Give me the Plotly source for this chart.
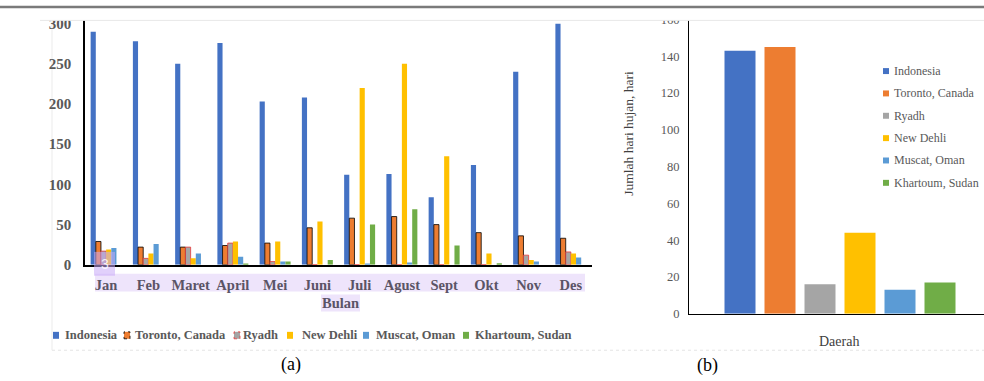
import plotly.graph_objects as go

# ---- data: monthly rainfall (a) and rainy days per region (b) ----
months = ["Jan", "Feb", "Maret", "April", "Mei", "Juni", "Juli", "Agust", "Sept", "Okt", "Nov", "Des"]
series_names = ["Indonesia", "Toronto, Canada", "Ryadh", "New Dehli", "Muscat, Oman", "Khartoum, Sudan"]

indonesia = [290, 278, 250, 276, 203, 208, 112, 113, 84, 124, 240, 300]
toronto = [29, 22, 22, 24, 27, 46, 58, 60, 50, 40, 36, 33]
ryadh = [17, 8, 22, 27, 4, 0, 0, 0, 0, 0, 12, 16]
new_dehli = [19, 14, 8, 29, 29, 54, 220, 250, 135, 14, 6, 14]
muscat = [21, 26, 14, 10, 4, 0, 1, 3, 0, 0, 4, 9]
khartoum = [0, 0, 0, 1, 4, 6, 50, 69, 24, 2, 0, 0]
monthly = [indonesia, toronto, ryadh, new_dehli, muscat, khartoum]

rain_days = [143, 145, 16, 44, 13, 17]

y_ticks_a = [0, 50, 100, 150, 200, 250, 300]
y_ticks_b = [0, 20, 40, 60, 80, 100, 120, 140, 160]

# ---- styles ----
colors = ["#4472C4", "#ED7D31", "#A5A5A5", "#FFC000", "#5B9BD5", "#70AD47"]
edge_colors = [None, "rgba(0,0,0,0.8)", "rgba(235,50,50,0.75)", None, None, None]
SERIF = "Liberation Serif"
GREY = "#595959"
W, H = 984, 381
# vertical pixel -> paper mapping (top offset and scale of the rendered page)
Y_OFF, Y_SCALE = 4.5, 0.967


def px(x):
    return x / W


def py(y):
    return min(1.0, 1 - (y - Y_OFF) / (Y_SCALE * H))


def label(x, y, text, **kw):
    d = dict(x=px(x), y=py(y), xref="paper", yref="paper", text=text,
             showarrow=False, xanchor="center", yanchor="middle")
    d.update(kw)
    return d


fig = go.Figure()

# (a) grouped monthly bars
for name, vals, col, edge in zip(series_names, monthly, colors, edge_colors):
    fig.add_trace(go.Bar(
        x=months, y=vals, name=name, xaxis="x", yaxis="y",
        marker=dict(color=col, line=dict(color=edge or col, width=1 if edge else 0)),
        showlegend=False,
    ))

# (b) rainy days per region, one bar per region
fig.add_trace(go.Bar(
    x=series_names, y=rain_days, xaxis="x2", yaxis="y2",
    marker=dict(color=colors, line=dict(width=0)),
    width=0.775, showlegend=False,
))

fig.update_layout(
    width=W, height=H,
    margin=dict(l=0, r=0, t=0, b=0),
    paper_bgcolor="white", plot_bgcolor="white",
    barmode="group", bargap=0.267, bargroupgap=0,
    font=dict(family=SERIF, color=GREY),
    xaxis=dict(
        domain=[px(85), px(592)], anchor="y", type="category",
        range=[-0.5, 11.5], showgrid=False, zeroline=False,
        showline=True, linecolor="black", linewidth=1.5,
        ticks="", ticklabelstandoff=6,
        tickfont=dict(family=SERIF, size=14.5, color="#5b5466", weight="bold"),
    ),
    yaxis=dict(
        domain=[py(264), py(18)], anchor="x",
        range=[0, 304], tickvals=y_ticks_a, showgrid=False, zeroline=False,
        showline=True, linecolor="black", linewidth=1.5,
        ticks="", ticklabelstandoff=9,
        tickfont=dict(family=SERIF, size=15, color=GREY, weight="bold"),
    ),
    xaxis2=dict(
        domain=[px(689), 1], anchor="y2", type="category",
        range=[-1.275, 6.1], showgrid=False, zeroline=False,
        showline=True, linecolor="black", linewidth=1,
        showticklabels=False, ticks="",
    ),
    yaxis2=dict(
        domain=[py(313.3), py(17)], anchor="x2",
        range=[0, 160], tickvals=y_ticks_b, showgrid=False, zeroline=False,
        showline=True, linecolor="black", linewidth=1,
        ticks="", ticklabelstandoff=6,
        tickfont=dict(family=SERIF, size=12.5, color=GREY),
    ),
)

shapes = []
annotations = []

# selection-style highlight behind the month labels and axis title
shapes.append(dict(type="rect", xref="paper", yref="paper", layer="below",
                   x0=px(95), x1=px(585), y0=py(291), y1=py(273),
                   fillcolor="#EEE4FB", line=dict(width=0)))
shapes.append(dict(type="rect", xref="paper", yref="paper", layer="below",
                   x0=px(321), x1=px(360), y0=py(311), y1=py(294),
                   fillcolor="#EEE4FB", line=dict(width=0)))

# faint chart-area borders
shapes.append(dict(type="line", xref="paper", yref="paper", layer="below",
                   x0=px(52), x1=px(52), y0=py(350), y1=py(18),
                   line=dict(color="#ebebeb", width=1)))
shapes.append(dict(type="line", xref="paper", yref="paper", layer="below",
                   x0=px(52), x1=1, y0=py(350), y1=py(350),
                   line=dict(color="#e4e4e4", width=1, dash="dot")))

# crop above the plots, top rule line
shapes.append(dict(type="rect", xref="paper", yref="paper", layer="above",
                   x0=0, x1=1, y0=py(17.8), y1=1,
                   fillcolor="white", line=dict(width=0)))
shapes.append(dict(type="line", xref="paper", yref="paper", layer="above",
                   x0=px(40), x1=1, y0=py(18), y1=py(18),
                   line=dict(color="#e8e8e8", width=1)))
shapes.append(dict(type="line", xref="paper", yref="paper", layer="above",
                   x0=0, x1=1, y0=py(4), y1=py(4),
                   line=dict(color="#7a7a7a", width=2.5)))

# small purple badge near January
shapes.append(dict(type="rect", xref="paper", yref="paper", layer="above",
                   x0=px(94), x1=px(115), y0=py(275), y1=py(251),
                   fillcolor="rgba(200,170,248,0.55)", line=dict(width=0)))
annotations.append(label(104.5, 263, "3",
                         font=dict(family="Liberation Sans", size=14, color="rgba(255,255,255,0.85)")))

# legend for (a): horizontal row under the chart
leg_a_marker_x = [53, 124, 234, 287, 363, 463]
leg_a_text_x = [63, 133, 241, 300, 374, 473]
leg_a_y = 335
for name, col, edge, mx, tx in zip(series_names, colors, edge_colors, leg_a_marker_x, leg_a_text_x):
    shapes.append(dict(type="rect", xref="paper", yref="paper", layer="above",
                       x0=px(mx), x1=px(mx + 6), y0=py(leg_a_y + 3.5), y1=py(leg_a_y - 3.5),
                       fillcolor=col,
                       line=dict(color=edge or col, width=1 if edge else 0, dash="dot")))
    annotations.append(label(tx, leg_a_y, name, xanchor="left",
                             font=dict(family=SERIF, size=12.5, color=GREY, weight="bold")))

# legend for (b): vertical list on the right
leg_b_y0, leg_b_step = 69, 22.5
for i, (name, col) in enumerate(zip(series_names, colors)):
    yc = leg_b_y0 + i * leg_b_step
    shapes.append(dict(type="rect", xref="paper", yref="paper", layer="above",
                       x0=px(883), x1=px(889), y0=py(yc + 3), y1=py(yc - 3),
                       fillcolor=col, line=dict(width=0)))
    annotations.append(label(892, yc, name, xanchor="left",
                             font=dict(family=SERIF, size=12, color=GREY)))

# axis titles and panel captions
annotations.append(label(340.5, 302.5, "Bulan",
                         font=dict(family=SERIF, size=14.5, color="#5b5466", weight="bold")))
annotations.append(label(629, 132, "Jumlah hari hujan, hari", textangle=-90,
                         font=dict(family=SERIF, size=13.5, color="#404040")))
annotations.append(label(839, 341.5, "Daerah",
                         font=dict(family=SERIF, size=14, color="#404040")))
annotations.append(label(291, 364, "(a)", font=dict(family=SERIF, size=18, color="black")))
annotations.append(label(707, 365, "(b)", font=dict(family=SERIF, size=18, color="black")))

fig.update_layout(shapes=shapes, annotations=annotations)
fig.write_html("out.html")
